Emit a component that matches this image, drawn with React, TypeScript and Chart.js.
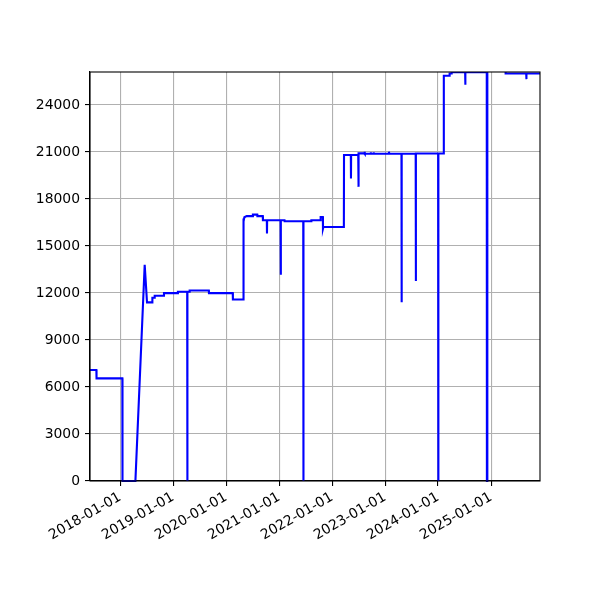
import { useEffect, useRef } from "react";
import { Chart, registerables, Plugin } from "chart.js";

Chart.register(...registerables);

// price history (date, value)
const dates = [
  "2017-06-07", "2017-07-21", "2017-07-22", "2018-01-16", "2018-01-17",
  "2018-04-16", "2018-06-19", "2018-07-05", "2018-08-10", "2018-08-11",
  "2018-08-26", "2018-08-27", "2018-10-29", "2018-10-30", "2019-02-02",
  "2019-02-03", "2019-04-08", "2019-04-09", "2019-04-10", "2019-04-24",
  "2019-04-25", "2019-09-04", "2019-09-05", "2020-02-16", "2020-02-17",
  "2020-04-27", "2020-04-28", "2020-04-30", "2020-05-03", "2020-05-06",
  "2020-05-22", "2020-07-03", "2020-07-04", "2020-08-03", "2020-08-04",
  "2020-09-10", "2020-09-11", "2020-10-08", "2020-10-09", "2020-10-10",
  "2021-01-11", "2021-01-12", "2021-01-13", "2021-02-07", "2021-02-08",
  "2021-06-16", "2021-06-17", "2021-06-18", "2021-08-10", "2021-08-11",
  "2021-10-13", "2021-10-14", "2021-10-29", "2021-10-30", "2021-11-02",
  "2022-03-23", "2022-03-24", "2022-05-10", "2022-05-11", "2022-05-12",
  "2022-06-30", "2022-07-01", "2022-07-02", "2022-07-04", "2022-08-12",
  "2022-08-13", "2022-08-15", "2022-09-23", "2022-09-24", "2022-09-26",
  "2022-10-13", "2022-10-14", "2022-10-16", "2023-01-27", "2023-01-28",
  "2023-01-30", "2023-04-24", "2023-04-25", "2023-04-26", "2023-07-31",
  "2023-08-01", "2023-08-02", "2024-01-02", "2024-01-03", "2024-01-04",
  "2024-02-09", "2024-02-10", "2024-03-20", "2024-03-21", "2024-04-03",
  "2024-04-04", "2024-07-06", "2024-07-07", "2024-07-08", "2024-12-02",
  "2024-12-03", "2024-12-05", "2024-12-06", "2025-04-10", "2025-04-11",
  "2025-08-31", "2025-09-01", "2025-09-02", "2025-12-04",
];

const values = [
  7080, 7080, 6550, 6550, 0,
  0, 13800, 11400, 11400, 11690,
  11690, 11820, 11820, 11990, 11990,
  12075, 12075, 0, 12075, 12075,
  12160, 12160, 11990, 11990, 11580,
  11580, 16450, 16750, 16550, 16830,
  16900, 16900, 17000, 17000, 16900,
  16900, 16640, 16640, 15790, 16640,
  16640, 13165, 16640, 16640, 16575,
  16575, 0, 16575, 16575, 16640,
  16640, 16850, 16850, 16100, 16210,
  16210, 20800, 20800, 19300, 20800,
  20800, 18770, 20800, 20907, 20907,
  21013, 20880, 20880, 20980, 20880,
  20880, 20980, 20880, 20880, 21013,
  20880, 20880, 11413, 20880, 20880,
  12757, 20900, 20900, 0, 20900,
  20900, 25860, 25860, 26000, 26000,
  26090, 26090, 25280, 26090, 26090,
  0, 0, 26300, 26300, 26000,
  26000, 25645, 26000, 26000,
];

const xRange = ["2017-06-07", "2025-12-04"];
const xTickYears = [2018, 2019, 2020, 2021, 2022, 2023, 2024, 2025];
const yTicks = [0, 3000, 6000, 9000, 12000, 15000, 18000, 21000, 24000];
const yMax = 26100;

const toMs = (d: string) => Date.parse(d + "T00:00:00Z");
const fmt = (ms: number) => new Date(ms).toISOString().slice(0, 10);

const frame: Plugin = {
  id: "frame",
  afterDatasetsDraw(chart) {
    const { ctx, chartArea } = chart;
    ctx.save();
    ctx.strokeStyle = "#000";
    ctx.lineWidth = 1.1;
    ctx.strokeRect(chartArea.left, chartArea.top, chartArea.right - chartArea.left, chartArea.bottom - chartArea.top);
    ctx.restore();
  },
};

export default function App() {
  const ref = useRef<HTMLCanvasElement>(null);

  useEffect(() => {
    if (!ref.current) return;
    const font = { family: "DejaVu Sans", size: 13.9 };
    const points = dates.map((d, i) => ({ x: toMs(d), y: values[i] }));

    const chart = new Chart(ref.current, {
      type: "line",
      data: {
        datasets: [
          {
            data: points,
            borderColor: "#0000ff",
            borderWidth: 2.1,
            pointRadius: 0,
            tension: 0,
            fill: false,
            clip: { left: 0, top: 0, right: 0, bottom: 2 },
          },
        ],
      },
      options: {
        animation: false,
        responsive: false,
        devicePixelRatio: 1,
        parsing: false,
        normalized: true,
        layout: { padding: { top: 72, right: 60, left: 0, bottom: 0 } },
        plugins: { legend: { display: false }, tooltip: { enabled: false } },
        scales: {
          x: {
            type: "linear",
            min: toMs(xRange[0]),
            max: toMs(xRange[1]),
            afterBuildTicks: (s) => {
              s.ticks = xTickYears.map((y) => ({ value: Date.UTC(y, 0, 1) }));
            },
            afterFit: (s) => {
              s.height = 119;
            },
            ticks: {
              color: "#000",
              font,
              minRotation: 30,
              maxRotation: 30,
              autoSkip: false,
              padding: 3,
              callback: (v) => fmt(Number(v)),
            },
            grid: { color: "#b0b0b0", lineWidth: 1.1, tickColor: "#000", tickLength: 5 },
            border: { color: "#000", width: 1.1 },
          },
          y: {
            min: 0,
            max: yMax,
            afterBuildTicks: (s) => {
              s.ticks = yTicks.map((v) => ({ value: v }));
            },
            afterFit: (s) => {
              s.width = 90;
            },
            ticks: { color: "#000", font, padding: 5, callback: (v) => String(v) },
            grid: { color: "#b0b0b0", lineWidth: 1.1, tickColor: "#000", tickLength: 5 },
            border: { color: "#000", width: 1.1 },
          },
        },
      },
      plugins: [frame],
    });

    return () => chart.destroy();
  }, []);

  return (
    <div style={{ position: "absolute", left: 0, top: 0, width: 600, height: 600, background: "#fff" }}>
      <canvas ref={ref} width={600} height={600}></canvas>
    </div>
  );
}
